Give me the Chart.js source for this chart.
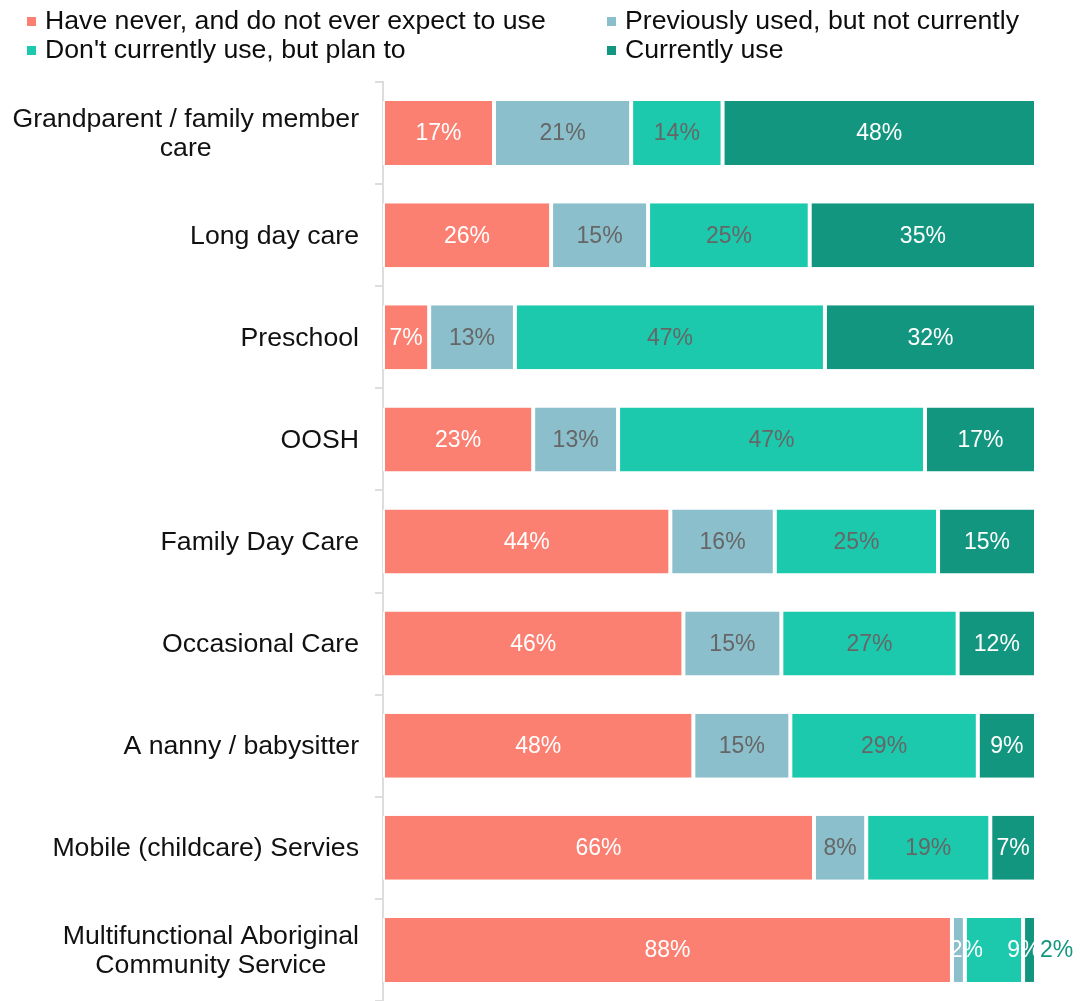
<!DOCTYPE html>
<html>
<head>
<meta charset="utf-8">
<script src="https://cdn.jsdelivr.net/npm/chart.js@4.4.0/dist/chart.umd.min.js"></script>
<style>
  html, body { margin: 0; padding: 0; background: #fff; }
</style>
</head>
<body>
<canvas id="usage" width="1080" height="1001"></canvas>
<script>
const categories = [
    ['Grandparent / family member', 'care'],
    'Long day care',
    'Preschool',
    'OOSH',
    'Family Day Care',
    'Occasional Care',
    'A nanny / babysitter',
    'Mobile (childcare) Servies',
    ['Multifunctional Aboriginal', 'Community Service']
];
const seriesNames = [
    'Have never, and do not ever expect to use',
    'Previously used, but not currently',
    "Don't currently use, but plan to",
    'Currently use'
];
const neverUse = [17, 26, 7, 23, 44, 46, 48, 66, 88];
const usedBefore = [21, 15, 13, 13, 16, 15, 15, 8, 2];
const planToUse = [14, 25, 47, 47, 25, 27, 29, 19, 9];
const currentlyUse = [48, 35, 32, 17, 15, 12, 9, 7, 2];

const colors = ['#FB8072', '#8BBFCC', '#1CC9AD', '#13967F'];
const valueColors = ['#ffffff', '#666666', '#666666', '#ffffff'];
// the last row is too narrow for the small segments, so their labels get pushed right
const lastRowLabels = [
    { color: '#ffffff', dx: 0 },
    { color: '#ffffff', dx: 8 },
    { color: '#ffffff', dx: 30 },
    { color: colors[3], dx: 27 }
];

const FONT = '"Liberation Sans", Arial, sans-serif';
const TEXT_SX = 1.066;   // text is drawn slightly wide
Chart.defaults.font.family = FONT;

const series = [neverUse, usedBefore, planToUse, currentlyUse];
// rounded percentages don't always add to 100, so each row is scaled to fill the bar
const rowTotals = categories.map((_, i) => series.reduce((s, vals) => s + vals[i], 0));

// percentage labels in the middle of each segment
const valueLabels = {
    id: 'valueLabels',
    afterDatasetsDraw(chart) {
        const ctx = chart.ctx;
        ctx.save();
        ctx.font = '23px ' + FONT;
        ctx.textAlign = 'center';
        ctx.textBaseline = 'middle';
        chart.data.datasets.forEach((ds, d) => {
            chart.getDatasetMeta(d).data.forEach((bar, i) => {
                let color = valueColors[d], dx = 0;
                if (i === chart.data.labels.length - 1) {
                    color = lastRowLabels[d].color;
                    dx = lastRowLabels[d].dx;
                }
                ctx.fillStyle = color;
                ctx.fillText(series[d][i] + '%', (bar.x + bar.base) / 2 + dx, bar.y + 1);
            });
        });
        ctx.restore();
    }
};

// category names: right aligned block, lines centred inside the block
const categoryLabels = {
    id: 'categoryLabels',
    afterDraw(chart) {
        const ctx = chart.ctx;
        const y = chart.scales.y;
        const right = chart.chartArea.left - 24;
        const lineH = 29;
        ctx.save();
        ctx.font = '25px ' + FONT;
        ctx.fillStyle = '#111111';
        ctx.textAlign = 'center';
        ctx.textBaseline = 'middle';
        chart.data.labels.forEach((lab, i) => {
            const lines = Array.isArray(lab) ? lab : [lab];
            const widest = Math.max(...lines.map(l => ctx.measureText(l).width)) * TEXT_SX;
            const cx = right - widest / 2;
            const cy = y.getPixelForTick(i) + 1.5;
            lines.forEach((l, k) => {
                ctx.save();
                ctx.translate(cx, cy + (k - (lines.length - 1) / 2) * lineH);
                ctx.scale(TEXT_SX, 1);
                ctx.fillText(l, 0, 0);
                ctx.restore();
            });
        });
        ctx.restore();
    }
};

// two-column legend across the top
const topLegend = {
    id: 'topLegend',
    afterDraw(chart) {
        const ctx = chart.ctx;
        const cols = [27, 607];
        const rows = [22, 51];
        ctx.save();
        ctx.font = '25px ' + FONT;
        ctx.textBaseline = 'middle';
        ctx.textAlign = 'left';
        chart.data.datasets.forEach((ds, d) => {
            const x = cols[d % 2], y = rows[Math.floor(d / 2)];
            ctx.fillStyle = ds.backgroundColor;
            ctx.fillRect(x, y - 5, 9, 9);
            ctx.fillStyle = '#0d0d0d';
            ctx.save();
            ctx.translate(x + 18, y);
            ctx.scale(TEXT_SX, 1);
            ctx.fillText(ds.label, 0, 0);
            ctx.restore();
        });
        ctx.restore();
    }
};

new Chart(document.getElementById('usage').getContext('2d'), {
    type: 'bar',
    data: {
        labels: categories,
        datasets: series.map((vals, d) => ({
            label: seriesNames[d],
            data: vals.map((v, i) => v / rowTotals[i] * 100),
            backgroundColor: colors[d],
            borderColor: '#ffffff',
            borderWidth: { left: 2, right: 2, top: 0, bottom: 0 },
            borderSkipped: false,
            barPercentage: 0.627,
            categoryPercentage: 1
        }))
    },
    options: {
        indexAxis: 'y',
        responsive: false,
        animation: false,
        devicePixelRatio: 1,
        layout: { padding: { top: 82, right: 44, bottom: 0, left: 0 } },
        scales: {
            x: {
                stacked: true,
                min: 0,
                max: 100,
                display: false
            },
            y: {
                stacked: true,
                afterFit(scale) { scale.width = 383; },
                ticks: { display: false },
                grid: {
                    offset: true,
                    drawOnChartArea: false,
                    drawTicks: true,
                    tickLength: 8,
                    color: '#dddddd',
                    lineWidth: 2
                },
                border: { color: '#dddddd', width: 2 }
            }
        },
        plugins: {
            legend: { display: false },
            tooltip: { enabled: false }
        }
    },
    plugins: [valueLabels, categoryLabels, topLegend]
});
</script>
</body>
</html>
